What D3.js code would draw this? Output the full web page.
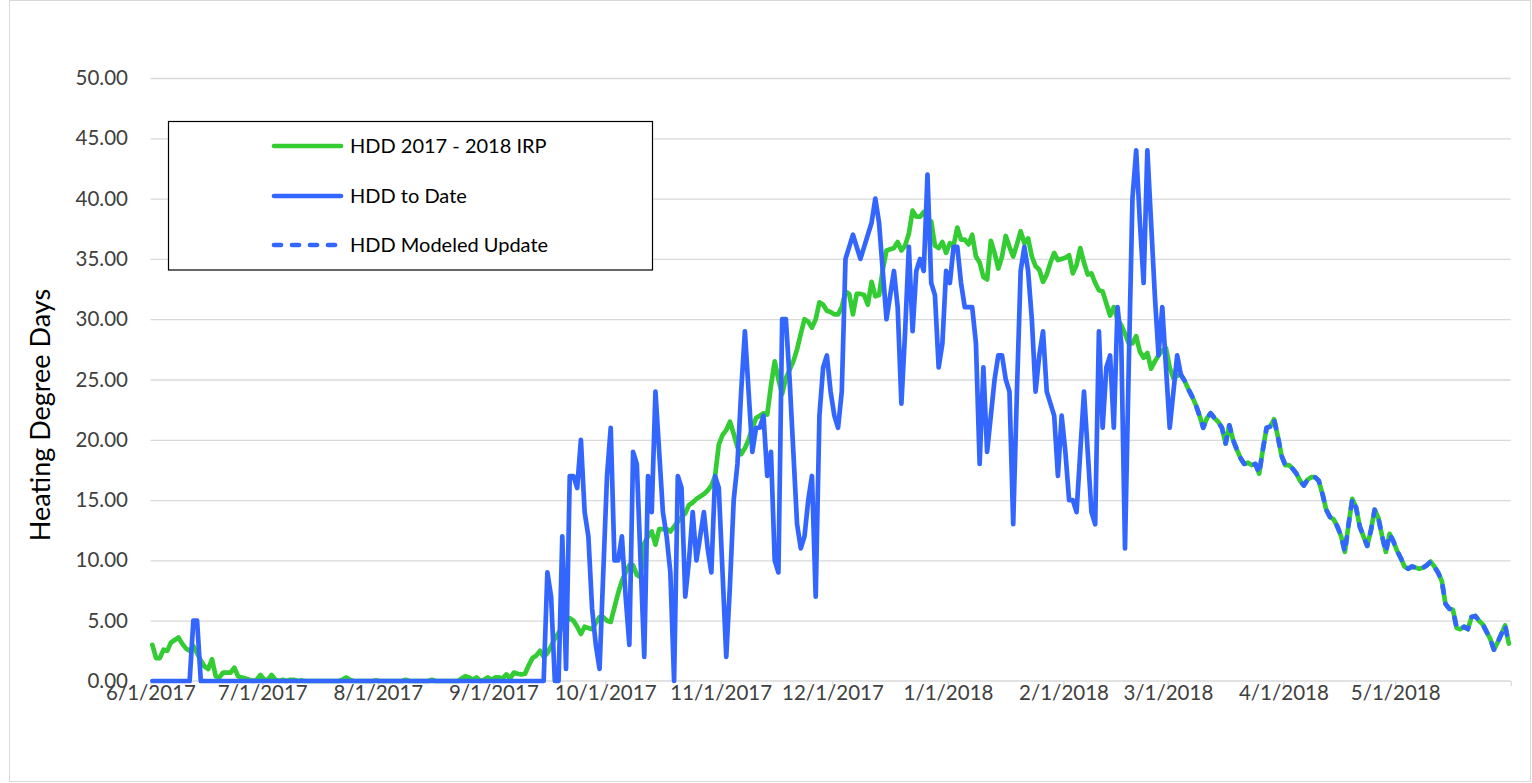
<!DOCTYPE html>
<html><head><meta charset="utf-8">
<script src="https://cdn.jsdelivr.net/npm/d3@7"></script>
<style>
body{margin:0;background:#fff}
svg{display:block}
text{font-family:Lato,"Open Sans",sans-serif}
</style>
</head><body>
<svg id="chart" width="1532" height="783"></svg>
<script>
// ---------- DATA ----------
const startDate = "2017-06-01";        // first daily category
const endDate = "2018-06-01";          // axis end
const modeledStartDate = "2018-03-04"; // first day of modeled series
const yTickValues = [0, 5, 10, 15, 20, 25, 30, 35, 40, 45, 50];
const seriesNames = ["HDD 2017 - 2018 IRP", "HDD to Date", "HDD Modeled Update"];
const yAxisTitle = "Heating Degree Days";

// HDD 2017 - 2018 IRP (daily, 6/1/2017 - 5/31/2018)
const irp = [
  3.0, 1.9, 1.9, 2.6, 2.5, 3.2, 3.4, 3.6, 3.1, 2.7,
  2.5, 2.9, 2.3, 1.7, 1.2, 1.0, 1.8, 0.4, 0.3, 0.7,
  0.7, 0.7, 1.1, 0.4, 0.3, 0.2, 0.1, 0.0, 0.1, 0.5,
  0.1, 0.1, 0.5, 0.1, 0.0, 0.1, 0.0, 0.1, 0.1, 0.0,
  0.05, 0, 0, 0, 0, 0, 0, 0, 0, 0,
  0, 0.1, 0.3, 0.1, 0, 0, 0, 0, 0, 0,
  0.05, 0, 0, 0, 0, 0, 0, 0, 0.1, 0,
  0, 0, 0, 0, 0, 0.1, 0, 0, 0, 0,
  0, 0, 0, 0.2, 0.4, 0.3, 0.1, 0.3, 0, 0.1,
  0.3, 0.1, 0.3, 0.3, 0.2, 0.55, 0.2, 0.7, 0.6, 0.55,
  0.6, 1.3, 1.9, 2.1, 2.5, 2.0, 2.3, 2.9, 3.5, 4.0,
  4.4, 4.9, 5.2, 5.0, 4.5, 3.9, 4.5, 4.4, 4.3, 4.8,
  5.3, 5.3, 5.0, 4.9, 6.1, 7.3, 8.3, 9.0, 9.6, 9.6,
  8.8, 8.6, 11.4, 12.0, 12.4, 11.3, 12.6, 12.6, 12.6, 12.4,
  12.8, 13.2, 13.6, 13.9, 14.6, 14.8, 15.1, 15.3, 15.5, 15.8,
  16.2, 17.0, 19.6, 20.4, 20.8, 21.5, 20.5, 19.4, 18.8, 19.3,
  20.0, 21.0, 21.8, 22.0, 22.2, 22.1, 24.5, 26.5, 25.0, 23.8,
  25.1, 25.8, 26.5, 27.5, 28.8, 30.0, 29.8, 29.3, 30.0, 31.4,
  31.2, 30.7, 30.6, 30.4, 30.4, 31.0, 32.3, 32.1, 30.4, 32.1,
  32.1, 32.0, 31.2, 33.1, 31.9, 32.0, 34.1, 35.7, 35.8, 35.9,
  36.4, 35.7, 36.1, 37.1, 39.0, 38.5, 38.5, 38.9, 38.3, 38.1,
  36.1, 35.9, 36.4, 35.5, 36.3, 36.1, 37.6, 36.6, 36.6, 36.2,
  37.0, 35.2, 34.7, 33.5, 33.3, 36.5, 35.5, 34.2, 35.2, 36.9,
  36.0, 35.2, 36.2, 37.3, 36.3, 36.7, 35.2, 34.4, 34.1, 33.1,
  33.7, 34.7, 35.5, 34.9, 35.0, 35.1, 35.3, 33.8, 34.5, 35.9,
  34.7, 33.7, 33.8, 33.0, 32.4, 32.3, 31.3, 30.3, 31.0, 30.0,
  29.5, 28.8, 28.0, 28.0, 28.6, 27.3, 26.8, 27.2, 25.9, 26.5,
  27.0, 27.4, 27.6, 26.0, 25.1, 25.3, 25.4, 24.9, 24.2, 23.6,
  22.9, 22.0, 21.0, 21.8, 22.2, 21.8, 21.5, 21.0, 19.7, 21.2,
  20.0, 19.2, 18.5, 18.0, 18.1, 17.9, 18.0, 17.2, 19.2, 21.0,
  21.1, 21.7, 20.3, 18.7, 17.9, 17.9, 17.6, 17.2, 16.6, 16.2,
  16.7, 16.9, 16.9, 16.6, 15.5, 14.2, 13.6, 13.4, 12.8, 12.0,
  10.7, 13.0, 15.1, 14.4, 12.8, 12.0, 11.2, 12.5, 14.2, 13.5,
  12.0, 10.7, 12.2, 11.6, 10.8, 10.2, 9.5, 9.3, 9.5, 9.4,
  9.3, 9.4, 9.6, 9.9, 9.5, 9.0, 8.3, 6.4, 6.0, 5.9,
  4.4, 4.3, 4.5, 4.3, 5.3, 5.4, 5.0, 4.7, 4.1, 3.5,
  2.6, 3.2, 3.9, 4.6, 3.1
];

// HDD to Date (daily, from 6/1/2017)
const hddToDate = [
  0, 0, 0, 0, 0, 0, 0, 0, 0, 0,
  0, 5, 5, 0, 0, 0, 0, 0, 0, 0,
  0, 0, 0, 0, 0, 0, 0, 0, 0, 0,
  0, 0, 0, 0, 0, 0, 0, 0, 0, 0,
  0, 0, 0, 0, 0, 0, 0, 0, 0, 0,
  0, 0, 0, 0, 0, 0, 0, 0, 0, 0,
  0, 0, 0, 0, 0, 0, 0, 0, 0, 0,
  0, 0, 0, 0, 0, 0, 0, 0, 0, 0,
  0, 0, 0, 0, 0, 0, 0, 0, 0, 0,
  0, 0, 0, 0, 0, 0, 0, 0, 0, 0,
  0, 0, 0, 0, 0, 0, 9, 7, 0, 0,
  12, 1, 17, 17, 16, 20, 14, 12, 6, 3,
  1, 9, 17, 21, 10, 10, 12, 7, 3, 19,
  18, 10, 2, 17, 14, 24, 19, 14, 12, 9,
  0, 17, 16, 7, 10, 14, 10, 12, 14, 11,
  9, 17, 16, 9, 2, 8, 15, 18, 24, 29,
  24, 19, 21, 21, 22, 17, 19, 10, 9, 30,
  30, 25, 19, 13, 11, 12, 15, 17, 7, 22,
  26, 27, 24, 22, 21, 24, 35, 36, 37, 36,
  35, 36, 37, 38, 40, 38, 34, 30, 32, 34,
  31, 23, 29, 36, 29, 34, 35, 34, 42, 33,
  32, 26, 28, 34, 33, 36, 36, 33, 31, 31,
  31, 28, 18, 26, 19, 22, 25, 27, 27, 25,
  24, 13, 24, 34, 36, 34, 30, 24, 27, 29,
  24, 23, 22, 17, 22, 19, 15, 15, 14, 19,
  24, 19, 14, 13, 29, 21, 26, 27, 21, 31,
  28, 11, 26, 40, 44, 38, 33, 44, 38, 32,
  27, 31, 26, 21, 24, 27, 25.4
];

// HDD Modeled Update (daily, from 3/4/2018)
const hddModeled = [
  25.4, 24.9, 24.2, 23.6, 22.9, 22.0, 21.0, 21.8, 22.2, 21.8,
  21.5, 21.0, 19.7, 21.2, 20.0, 19.2, 18.5, 18.0, 18.1, 17.9,
  18.0, 17.2, 19.2, 21.0, 21.1, 21.7, 20.3, 18.7, 17.9, 17.9,
  17.6, 17.2, 16.6, 16.2, 16.7, 16.9, 16.9, 16.6, 15.5, 14.2,
  13.6, 13.4, 12.8, 12.0, 10.7, 13.0, 15.1, 14.4, 12.8, 12.0,
  11.2, 12.5, 14.2, 13.5, 12.0, 10.7, 12.2, 11.6, 10.8, 10.2,
  9.5, 9.3, 9.5, 9.4, 9.3, 9.4, 9.6, 9.9, 9.5, 9.0,
  8.3, 6.4, 6.0, 5.9, 4.4, 4.3, 4.5, 4.3, 5.3, 5.4,
  5.0, 4.7, 4.1, 3.5, 2.6, 3.2, 3.9, 4.6, 3.1
];

const seriesColors = ["#33cc33", "#3366ff", "#3366ff"];

// ---------- CHART ----------
const svg = d3.select("#chart");
const plot = {left: 150.5, right: 1510.7, top: 78, bottom: 681};

svg.append("rect").attr("x", 9.5).attr("y", 0.5).attr("width", 1521).attr("height", 781)
  .attr("fill", "#fff").attr("stroke", "#d9d9d9").attr("stroke-width", 1);

const parse = d3.utcParse("%Y-%m-%d");
const t0 = parse(startDate), t1 = parse(endDate), tm = parse(modeledStartDate);

const x = d3.scaleUtc().domain([t0, t1]).range([plot.left, plot.right]);
const y = d3.scaleLinear().domain([0, 50]).range([plot.bottom, plot.top]);

// daily points are centred in their day slot (date axis, between tick marks)
const toPoints = (arr, start) => arr.map((v, i) => ({
  date: d3.utcHour.offset(d3.utcDay.offset(start, i), 12), value: v
}));

// gridlines
const gridAxis = d3.axisLeft(y).tickValues(yTickValues.filter(v => v > 0))
  .tickSize(-(plot.right - plot.left)).tickFormat("");
const gg = svg.append("g").attr("transform", `translate(${plot.left},0)`).call(gridAxis);
gg.select(".domain").remove();
gg.selectAll("line").attr("stroke", "#d9d9d9").attr("stroke-width", 1.3);

// y tick labels
const yAxis = d3.axisLeft(y).tickValues(yTickValues).tickSize(0).tickPadding(0).tickFormat(d3.format(".2f"));
const yg = svg.append("g").attr("transform", `translate(128,0)`).call(yAxis);
yg.select(".domain").remove();
yg.selectAll("text").attr("font-size", 20.5).attr("fill", "#404040")
  .attr("font-family", "Lato, 'Open Sans', sans-serif");

// x axis
const monthTicks = d3.utcMonth.range(t0, d3.utcDay.offset(t1, 1));
const fmt = d => `${d.getUTCMonth() + 1}/${d.getUTCDate()}/${d.getUTCFullYear()}`;
const xAxis = d3.axisBottom(x).tickValues(monthTicks).tickSize(5).tickPadding(0)
  .tickFormat(d => (+d === +t1 ? "" : fmt(d)));
const xg = svg.append("g").attr("transform", `translate(0,${plot.bottom})`).call(xAxis);
xg.select(".domain").attr("stroke", "#d9d9d9").attr("stroke-width", 1.3)
  .attr("d", `M${plot.left},0H${plot.right}`);
xg.selectAll(".tick line").attr("stroke", "#d9d9d9").attr("stroke-width", 1.3);
xg.selectAll("text").attr("y", 4).attr("font-size", 20.5).attr("fill", "#404040")
  .attr("font-family", "Lato, 'Open Sans', sans-serif");

// axis title
svg.append("text").attr("transform", "translate(50,415) rotate(-90)")
  .attr("text-anchor", "middle").attr("font-size", 27).attr("fill", "#000")
  .text(yAxisTitle);

// lines
const line = d3.line().x(d => x(d.date)).y(d => y(d.value));
const seriesData = [
  {pts: toPoints(irp, t0), color: seriesColors[0], dash: null},
  {pts: toPoints(hddToDate, t0), color: seriesColors[1], dash: null},
  {pts: toPoints(hddModeled, tm), color: seriesColors[2], dash: "7,11"}
];
svg.append("g").selectAll("path").data(seriesData).join("path")
  .attr("d", d => line(d.pts))
  .attr("fill", "none")
  .attr("stroke", d => d.color)
  .attr("stroke-width", 4.7)
  .attr("stroke-linejoin", "round")
  .attr("stroke-linecap", "round")
  .attr("stroke-dasharray", d => d.dash);

// legend
const lg = svg.append("g");
lg.append("rect").attr("x", 168.5).attr("y", 121.5).attr("width", 484).attr("height", 148.5)
  .attr("fill", "#fff").attr("stroke", "#000").attr("stroke-width", 1.2);
const legendY = [146, 196, 245];
seriesNames.forEach((name, i) => {
  lg.append("line").attr("x1", 274).attr("x2", 341).attr("y1", legendY[i]).attr("y2", legendY[i])
    .attr("stroke", seriesColors[i]).attr("stroke-width", 4.7).attr("stroke-linecap", "round")
    .attr("stroke-dasharray", i === 2 ? "7,11" : null);
  lg.append("text").attr("x", 350).attr("y", legendY[i]).attr("dy", "0.36em")
    .attr("font-size", 20).attr("fill", "#000").text(name);
});
</script>
</body></html>
